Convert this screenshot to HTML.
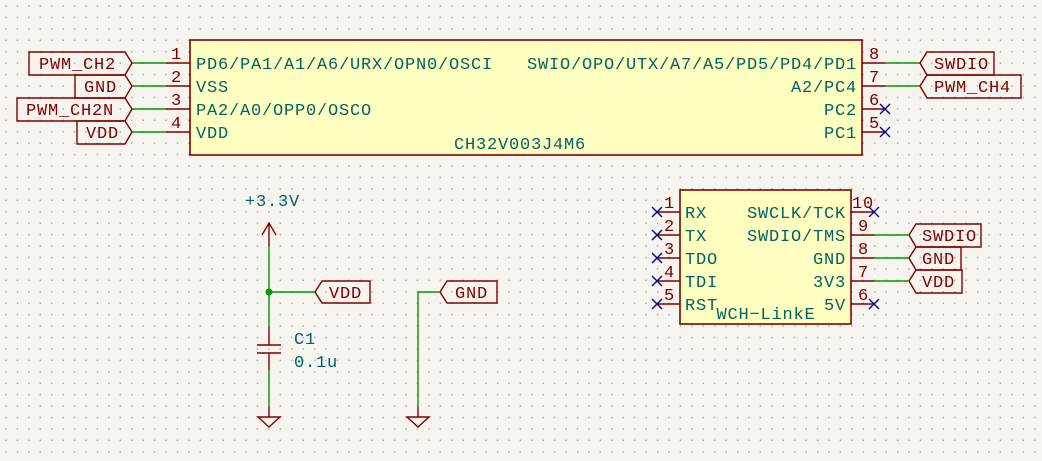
<!DOCTYPE html>
<html><head><meta charset="utf-8"><style>
html,body{margin:0;padding:0;background:#f5f4ef;}
svg{display:block;}
text{font-family:"Liberation Mono",monospace;font-size:17px;letter-spacing:0.8px;}
.t{fill:#006464;}
.r{fill:#840000;}
</style></head><body>
<svg width="1042" height="461" viewBox="0 0 1042 461" xmlns="http://www.w3.org/2000/svg">
<defs>
<pattern id="g" x="0.3" y="0.3" width="11.43" height="11.43" patternUnits="userSpaceOnUse">
<rect x="5" y="5" width="1.5" height="1.5" fill="#aaa"/>
</pattern>
</defs>
<rect width="1042" height="461" fill="url(#g)"/>
<g stroke-width="1.4" fill="none">
<rect x="190" y="40" width="672" height="115" fill="#ffffc2" stroke="#840000" stroke-width="1.6"/>
<g stroke="#840000">
<path d="M166 63H190M166 86H190M166 109H190M166 132H190"/>
<path d="M862 63H885M862 86H885M862 109H885M862 132H885"/>
</g>
<g stroke="#009900">
<path d="M132 63H166M132 86H166M132 109H166M132 132H166"/>
<path d="M885 63H920M885 86H920"/>
</g>
<g stroke="#840000">
<path d="M132 63L125 52H29V75H125Z"/>
<path d="M132 86L125 75H75V98H125Z"/>
<path d="M132 109L125 98H17V121H125Z"/>
<path d="M132 132L125 121H77V144H125Z"/>
<path d="M920 63L927 52H994V75H927Z"/>
<path d="M920 86L927 75H1021V98H927Z"/>
</g>
<g stroke="#000099">
<path d="M880 104l10 10M890 104l-10 10M880 127l10 10M890 127l-10 10"/>
</g>
<rect x="680" y="190" width="171" height="134" fill="#ffffc2" stroke="#840000" stroke-width="1.6"/>
<g stroke="#840000">
<path d="M657 212H680M657 235H680M657 258H680M657 281H680M657 304H680"/>
<path d="M851 212H874M851 235H874M851 258H874M851 281H874M851 304H874"/>
<path d="M909 235L916 224H981V247H916Z"/>
<path d="M909 258L916 247H961V270H916Z"/>
<path d="M909 281L916 270H962V293H916Z"/>
</g>
<g stroke="#009900"><path d="M874 235H909M874 258H909M874 281H909"/></g>
<g stroke="#000099">
<path d="M652 207l10 10M662 207l-10 10M652 230l10 10M662 230l-10 10M652 253l10 10M662 253l-10 10M652 276l10 10M662 276l-10 10M652 299l10 10M662 299l-10 10"/>
<path d="M869 207l10 10M879 207l-10 10M869 299l10 10M879 299l-10 10"/>
</g>
<g stroke="#840000">
<path d="M269 223V246M262 235L269 223L276 235"/>
<path d="M269 327V345M257 345H281M257 353H281M269 353V370"/>
<path d="M269 407V417M258 417H280L269 427Z"/>
<path d="M418 407V417M407 417H429L418 427Z"/>
<path d="M315 292L322 281H370V303H322Z"/>
<path d="M440 292L447 281H497V303H447Z"/>
</g>
<g stroke="#009900">
<path d="M269 246V327M269 292H315M269 370V407"/>
<path d="M418 407V292H440"/>
</g>
<circle cx="269" cy="292" r="3.5" fill="#009900"/>
</g>
<g class="t">
<text x="196" y="69">PD6/PA1/A1/A6/URX/OPN0/OSCI</text>
<text x="196" y="92">VSS</text>
<text x="196" y="115">PA2/A0/OPP0/OSCO</text>
<text x="196" y="138">VDD</text>
<text x="857" y="69" text-anchor="end">SWIO/OPO/UTX/A7/A5/PD5/PD4/PD1</text>
<text x="857" y="92" text-anchor="end">A2/PC4</text>
<text x="857" y="115" text-anchor="end">PC2</text>
<text x="857" y="138" text-anchor="end">PC1</text>
<text x="520" y="149" text-anchor="middle">CH32V003J4M6</text>
<text x="685" y="218">RX</text>
<text x="685" y="241">TX</text>
<text x="685" y="264">TDO</text>
<text x="685" y="287">TDI</text>
<text x="685" y="310">RST</text>
<text x="846" y="218" text-anchor="end">SWCLK/TCK</text>
<text x="846" y="241" text-anchor="end">SWDIO/TMS</text>
<text x="846" y="264" text-anchor="end">GND</text>
<text x="846" y="287" text-anchor="end">3V3</text>
<text x="846" y="310" text-anchor="end">5V</text>
<text x="766" y="319" text-anchor="middle">WCH−LinkE</text>
<text x="245" y="206">+3.3V</text>
<text x="294" y="344">C1</text>
<text x="294" y="367">0.1u</text>
</g>
<g class="r">
<text x="182" y="59" text-anchor="end">1</text>
<text x="182" y="82" text-anchor="end">2</text>
<text x="182" y="105" text-anchor="end">3</text>
<text x="182" y="128" text-anchor="end">4</text>
<text x="869" y="59">8</text>
<text x="869" y="82">7</text>
<text x="869" y="105">6</text>
<text x="869" y="128">5</text>
<text x="39" y="69">PWM_CH2</text>
<text x="84" y="92">GND</text>
<text x="26" y="115">PWM_CH2N</text>
<text x="86" y="138">VDD</text>
<text x="934" y="69">SWDIO</text>
<text x="934" y="92">PWM_CH4</text>
<text x="664" y="208">1</text>
<text x="664" y="231">2</text>
<text x="664" y="254">3</text>
<text x="664" y="277">4</text>
<text x="664" y="300">5</text>
<text x="852" y="208">10</text>
<text x="858" y="231">9</text>
<text x="858" y="254">8</text>
<text x="858" y="277">7</text>
<text x="858" y="300">6</text>
<text x="922" y="241">SWDIO</text>
<text x="922" y="264">GND</text>
<text x="922" y="287">VDD</text>
<text x="329" y="298">VDD</text>
<text x="455" y="298">GND</text>
</g>
</svg>
</body></html>
